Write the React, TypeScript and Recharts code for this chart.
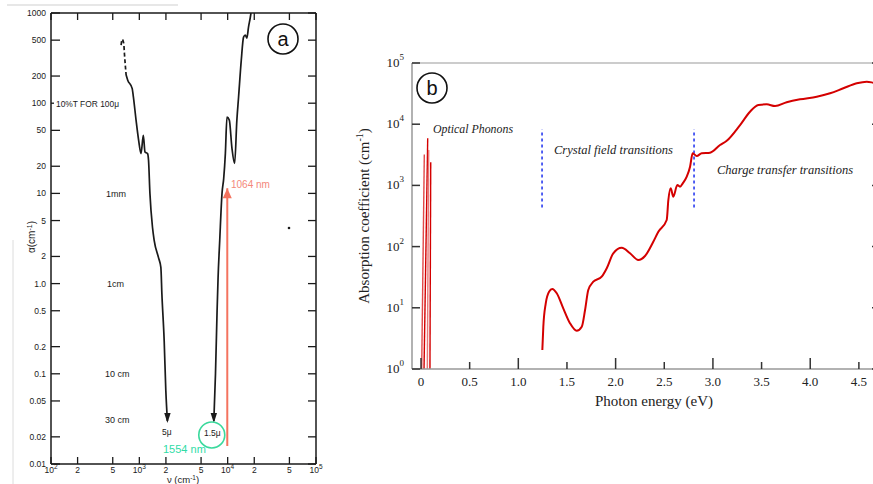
import React from 'react';
import { ComposedChart, Line, XAxis, YAxis, ReferenceLine, ReferenceDot } from 'recharts';

// ---------- Panel (a): absorption vs wavenumber (scanned plot) ----------
const nuLeftDashed = [622, 639, 666, 678, 696, 709];
const alphaLeftDashed = [441, 511, 461, 356, 253, 205];
const nuLeft = [709, 739, 829, 857, 918, 982, 1045, 1109, 1159, 1239, 1271, 1318, 1410, 1474, 1648, 1753, 1800, 1911, 1995, 2080];
const alphaLeft = [205, 180, 146, 117, 65, 38.8, 27.6, 44, 28.8, 27.6, 23.3, 10, 4.19, 3.0, 1.94, 1.51, 0.77, 0.233, 0.065, 0.03];
const nuRight = [6970, 7280, 7590, 7790, 8130, 8630, 9020, 9420, 9820, 10440, 11170, 11990, 12710, 13290, 14260, 15130, 15810, 16490, 17220, 17990, 18370];
const alphaRight = [0.03, 0.1, 0.5, 1.17, 3.0, 10, 14.7, 27.8, 70, 65, 32, 21.5, 65, 117, 300, 541, 570, 527, 699, 880, 1000];
const laserNu = [9900, 9900];
const laserAlpha = [0.0158, 11.4];
const circleNu = 6610;
const circleAlpha = 0.021;

const alphaTicks = [0.01, 0.02, 0.05, 0.1, 0.2, 0.5, 1, 2, 5, 10, 20, 50, 100, 200, 500, 1000];
const alphaTickLabels = ['0.01', '0.02', '0.05', '0.1', '0.2', '0.5', '1.0', '2', '5', '10', '20', '50', '100', '200', '500', '1000'];
const nuTicks = [100, 200, 500, 1000, 2000, 5000, 10000, 20000, 50000, 100000];
const nuTickBase = ['10', '2', '5', '10', '2', '5', '10', '2', '5', '10'];
const nuTickExp = ['2', '', '', '3', '', '', '4', '', '', '5'];

// ---------- Panel (b): absorption vs photon energy ----------
const energy = [1.247, 1.257, 1.282, 1.316, 1.349, 1.395, 1.462, 1.531, 1.6, 1.652, 1.686, 1.719, 1.771, 1.857, 1.909, 1.976, 2.063, 2.148, 2.233, 2.302, 2.387, 2.439, 2.525, 2.542, 2.566, 2.593, 2.634, 2.662, 2.69, 2.731, 2.765, 2.792, 2.833, 2.885, 2.97, 3.073, 3.142, 3.279, 3.381, 3.467, 3.553, 3.638, 3.758, 3.895, 4.067, 4.204, 4.34, 4.478, 4.581, 4.649, 4.72];
const absorption = [2.04, 4.9, 11.8, 18.3, 20.3, 17.3, 9.8, 5.6, 4.2, 4.9, 9.2, 19.5, 26.7, 32.2, 44.2, 77.8, 96, 77.8, 60.4, 70.2, 120, 175, 272, 577, 897, 653, 1016, 952, 1082, 1387, 2023, 3350, 3020, 3350, 3420, 4570, 5370, 9700, 16000, 20600, 21100, 19800, 22800, 25500, 28100, 32000, 38600, 46600, 49500, 47600, 45000];
const phononBase = [0.007, 0.031, 0.065, 0.092];
const phononPeak = [0.034, 0.069, 0.079, 0.1];
const phononAlpha = [3200, 5900, 3800, 2400];
const phononColors = ['#e04848', '#d40000', '#e87878', '#d40000'];
const boundaryEnergy = [1.244, 2.806];
const boundaryLow = 436;
const boundaryHigh = 8300;

const energyTicks = [0, 0.5, 1, 1.5, 2, 2.5, 3, 3.5, 4, 4.5];
const energyTickLabels = ['0', '0.5', '1.0', '1.5', '2.0', '2.5', '3.0', '3.5', '4.0', '4.5'];
const absTicks = [1, 10, 100, 1000, 10000, 100000];
const absTickExp = ['0', '1', '2', '3', '4', '5'];

const dataLeftDashed = nuLeftDashed.map((nu, i) => ({ nu, a: alphaLeftDashed[i] }));
const dataLeft = nuLeft.map((nu, i) => ({ nu, a: alphaLeft[i] }));
const dataRight = nuRight.map((nu, i) => ({ nu, a: alphaRight[i] }));
const dataLaser = laserNu.map((nu, i) => ({ nu, a: laserAlpha[i] }));
const dataB = energy.map((e, i) => ({ e, a: absorption[i] }));

const SANS = '"Liberation Sans", Arial, sans-serif';
const SERIF = '"Liberation Serif", "DejaVu Serif", serif';
const INK = '#1a1a1a';

// ---- tick renderers panel (a)
const ATickLeft = (props: any) => {
  const { x, y, payload, index } = props;
  let i = alphaTicks.indexOf(payload.value);
  if (i < 0) i = index;
  const len = alphaTicks[i] === 100 ? 3 : 9;
  return (
    <g>
      <line x1={x} y1={y} x2={x + len} y2={y} stroke={INK} strokeWidth={1.3} />
      <text x={x - 5} y={y + 3} textAnchor="end" fontSize={8.5} fontFamily={SANS} fill={INK}>
        {alphaTickLabels[i]}
      </text>
    </g>
  );
};
const ATickRight = (props: any) => {
  const { x, y } = props;
  return <line x1={x - 8} y1={y} x2={x} y2={y} stroke={INK} strokeWidth={1.3} />;
};
const ATickBottom = (props: any) => {
  const { x, y, payload, index } = props;
  let i = nuTicks.indexOf(payload.value);
  if (i < 0) i = index;
  const exp = nuTickExp[i];
  return (
    <g>
      <line x1={x} y1={y} x2={x} y2={y - 7} stroke={INK} strokeWidth={1.3} />
      <text x={x} y={y + 9} textAnchor="middle" fontSize={8.5} fontFamily={SANS} fill={INK}>
        <tspan>{nuTickBase[i]}</tspan>
        {exp ? <tspan dy={-4} fontSize={6.5}>{exp}</tspan> : null}
      </text>
    </g>
  );
};
const ATickTop = (props: any) => {
  const { x, y } = props;
  return <line x1={x} y1={y} x2={x} y2={y + 7} stroke={INK} strokeWidth={1.3} />;
};

const arrowDown = (last: number) => (props: any) => {
  const { cx, cy, index } = props;
  if (index !== last) return <g key={`d${index}`} />;
  return <path key={`d${index}`} d={`M${cx},${cy + 2} L${cx - 3.2},${cy - 8} L${cx + 3.2},${cy - 8} Z`} fill={INK} />;
};
const arrowUp = (props: any) => {
  const { cx, cy, index } = props;
  if (index !== 1) return <g key={`u${index}`} />;
  return <path key={`u${index}`} d={`M${cx},${cy} L${cx - 4.5},${cy + 10} L${cx + 4.5},${cy + 10} Z`} fill="#f4735f" />;
};

const PanelA = () => (
  <ComposedChart width={330} height={484} margin={{ top: 8, right: 4, bottom: 5, left: 21 }}>
    <XAxis xAxisId="b" dataKey="nu" type="number" scale="log" domain={[100, 100000]} allowDataOverflow ticks={nuTicks}
      tick={<ATickBottom />} tickLine={false} tickSize={0} tickMargin={0} height={15} axisLine={{ stroke: INK, strokeWidth: 1.5 }} interval={0} />
    <XAxis xAxisId="t" orientation="top" dataKey="nu" type="number" scale="log" domain={[100, 100000]} allowDataOverflow ticks={nuTicks}
      tick={<ATickTop />} tickLine={false} tickSize={0} tickMargin={0} height={5} axisLine={{ stroke: INK, strokeWidth: 1.5 }} interval={0} />
    <YAxis yAxisId="l" type="number" scale="log" domain={[0.01, 1000]} allowDataOverflow ticks={alphaTicks}
      tick={<ATickLeft />} tickLine={false} tickSize={0} tickMargin={0} width={30} axisLine={{ stroke: INK, strokeWidth: 1.5 }} interval={0} />
    <YAxis yAxisId="r" orientation="right" type="number" scale="log" domain={[0.01, 1000]} allowDataOverflow ticks={alphaTicks}
      tick={<ATickRight />} tickLine={false} tickSize={0} tickMargin={0} width={10} axisLine={{ stroke: INK, strokeWidth: 1.5 }} interval={0} />
    <Line xAxisId="t" yAxisId="r" data={dataLeft} dataKey="a" stroke="none" dot={false} isAnimationActive={false} />
    <Line xAxisId="b" yAxisId="l" data={dataLeftDashed} dataKey="a" type="monotone" stroke={INK} strokeWidth={1.7}
      strokeDasharray="4 2.5" dot={false} isAnimationActive={false} />
    <Line xAxisId="b" yAxisId="l" data={dataLeft} dataKey="a" type="monotone" stroke={INK} strokeWidth={1.7}
      dot={arrowDown(dataLeft.length - 1)} activeDot={false} isAnimationActive={false} />
    <Line xAxisId="b" yAxisId="l" data={dataRight} dataKey="a" type="monotone" stroke={INK} strokeWidth={1.7}
      dot={arrowDown(0)} activeDot={false} isAnimationActive={false} />
    <Line xAxisId="b" yAxisId="l" data={dataLaser} dataKey="a" type="linear" stroke="#f4735f" strokeWidth={2}
      dot={arrowUp} activeDot={false} isAnimationActive={false} />
    <ReferenceDot xAxisId="b" yAxisId="l" x={circleNu} y={circleAlpha} r={13} fill="none" stroke="#3ad99c" strokeWidth={1.6} />
  </ComposedChart>
);

// ---- tick renderers panel (b)
const BTickBottom = (props: any) => {
  const { x, y, payload, index } = props;
  let i = energyTicks.indexOf(payload.value);
  if (i < 0) i = index;
  const major = Number.isInteger(energyTicks[i]);
  return (
    <g>
      <line x1={x} y1={y} x2={x} y2={y - (major ? 11 : 7)} stroke="#333" strokeWidth={1.5} />
      <text x={x} y={y + 17} textAnchor="middle" fontSize={13} fontFamily={SERIF} fill="#222">
        {energyTickLabels[i]}
      </text>
    </g>
  );
};
const BTickLeft = (props: any) => {
  const { x, y, payload, index } = props;
  let i = absTicks.indexOf(payload.value);
  if (i < 0) i = index;
  return (
    <g>
      <line x1={x} y1={y} x2={x + 8} y2={y} stroke="#333" strokeWidth={1.5} />
      <text x={x - 8} y={y + 4} textAnchor="end" fontSize={13} fontFamily={SERIF} fill="#222">
        <tspan>10</tspan>
        <tspan dy={-7} fontSize={9}>{absTickExp[i]}</tspan>
      </text>
    </g>
  );
};
const BTickRight = (props: any) => {
  const { x, y } = props;
  return <line x1={x - 8} y1={y} x2={x} y2={y} stroke="#333" strokeWidth={1.5} />;
};

const PanelB = () => (
  <ComposedChart width={545} height={484} margin={{ top: 61, right: 3, bottom: 75, left: 22 }}>
    <XAxis xAxisId="b" dataKey="e" type="number" domain={[-0.0925, 4.717]} allowDataOverflow ticks={energyTicks}
      tick={<BTickBottom />} tickLine={false} tickSize={0} tickMargin={0} height={40} axisLine={{ stroke: '#999', strokeWidth: 1.5 }} interval={0} />
    <XAxis xAxisId="t" orientation="top" dataKey="e" type="number" domain={[-0.0925, 4.717]} allowDataOverflow
      tick={false} tickLine={false} height={2} axisLine={{ stroke: '#bbb', strokeWidth: 1.5 }} />
    <YAxis yAxisId="l" type="number" scale="log" domain={[1, 100000]} allowDataOverflow ticks={absTicks}
      tick={<BTickLeft />} tickLine={false} tickSize={0} tickMargin={0} width={50} axisLine={{ stroke: '#999', strokeWidth: 1.5 }} interval={0} />
    <YAxis yAxisId="r" orientation="right" type="number" scale="log" domain={[1, 100000]} allowDataOverflow ticks={absTicks}
      tick={<BTickRight />} tickLine={false} tickSize={0} tickMargin={0} width={2} axisLine={false} interval={0} />
    <Line xAxisId="t" yAxisId="r" data={dataB} dataKey="a" stroke="none" dot={false} isAnimationActive={false} />
    {phononAlpha.map((h, i) => (
      <ReferenceLine key={`p${i}`} xAxisId="b" yAxisId="l"
        segment={[{ x: phononBase[i], y: 1 }, { x: phononPeak[i], y: h }]}
        stroke={phononColors[i]} strokeWidth={1.4} />
    ))}
    {boundaryEnergy.map((e, i) => (
      <ReferenceLine key={`bd${i}`} xAxisId="b" yAxisId="l"
        segment={[{ x: e, y: boundaryLow }, { x: e, y: boundaryHigh }]}
        stroke="#2a3cf0" strokeWidth={1.6} strokeDasharray="3 3" />
    ))}
    <Line xAxisId="b" yAxisId="l" data={dataB} dataKey="a" type="monotone" stroke="#d40000" strokeWidth={2}
      dot={false} activeDot={false} isAnimationActive={false} />
  </ComposedChart>
);

const App = () => (
  <div style={{ position: 'absolute', left: 0, top: 0, width: 873, height: 484, overflow: 'hidden', background: '#fff' }}>
    <div style={{ position: 'absolute', left: 0, top: 0 }}>
      <PanelA />
    </div>
    <div style={{ position: 'absolute', left: 340, top: 0 }}>
      <PanelB />
    </div>
    <svg width={873} height={484} style={{ position: 'absolute', left: 0, top: 0, pointerEvents: 'none' }}>
      {/* scan border */}
      <line x1={7} y1={5} x2={178} y2={5} stroke="#cfcfcf" strokeWidth={1} />
      <line x1={13} y1={240} x2={13} y2={484} stroke="#dcdcdc" strokeWidth={1} />
      {/* panel a annotations */}
      <text x={56} y={107} fontSize={8.5} fontFamily={SANS} fill={INK} textLength={63} lengthAdjust="spacingAndGlyphs">
        10%T FOR 100μ
      </text>
      <text x={106} y={197} fontSize={9} fontFamily={SANS} fill={INK}>1mm</text>
      <text x={107} y={287} fontSize={9} fontFamily={SANS} fill={INK}>1cm</text>
      <text x={105} y={377} fontSize={9} fontFamily={SANS} fill={INK}>10 cm</text>
      <text x={105} y={423} fontSize={9} fontFamily={SANS} fill={INK}>30 cm</text>
      <text x={162} y={435} fontSize={8.5} fontFamily={SANS} fill={INK}>5μ</text>
      <text x={204} y={436} fontSize={8.5} fontFamily={SANS} fill={INK}>1.5μ</text>
      <text x={231} y={188} fontSize={10} fontFamily={SANS} fill="#f4877a">1064 nm</text>
      <text x={163} y={453} fontSize={11} fontFamily={SANS} fill="#2fdca6">1554 nm</text>
      <text transform="translate(35,237) rotate(-90)" textAnchor="middle" fontSize={10} fontFamily={SANS} fill={INK}>
        α(cm<tspan dy={-3} fontSize={7}>-1</tspan><tspan dy={3}>)</tspan>
      </text>
      <text x={183} y={483} textAnchor="middle" fontSize={9.5} fontFamily={SANS} fill={INK}>
        ν (cm<tspan dy={-3} fontSize={6.5}>-1</tspan><tspan dy={3}>)</tspan>
      </text>
      <circle cx={289} cy={228} r={1.3} fill={INK} />
      <circle cx={283} cy={39} r={15} fill="#fff" stroke="#111" strokeWidth={1.6} />
      <text x={283} y={46} textAnchor="middle" fontSize={20} fontFamily={SANS} fill="#111">a</text>
      {/* panel b annotations */}
      <circle cx={432} cy={88} r={15} fill="#fff" stroke="#111" strokeWidth={1.6} />
      <text x={432} y={95} textAnchor="middle" fontSize={20} fontFamily={SANS} fill="#111">b</text>
      <text x={433} y={133} fontSize={12} fontStyle="italic" fontFamily={SERIF} fill="#222" textLength={80} lengthAdjust="spacingAndGlyphs">
        Optical Phonons
      </text>
      <text x={554} y={154} fontSize={12} fontStyle="italic" fontFamily={SERIF} fill="#222" textLength={119} lengthAdjust="spacingAndGlyphs">
        Crystal field transitions
      </text>
      <text x={717} y={174} fontSize={12} fontStyle="italic" fontFamily={SERIF} fill="#222" textLength={136} lengthAdjust="spacingAndGlyphs">
        Charge transfer transitions
      </text>
      <text x={654} y={406} textAnchor="middle" fontSize={15} fontFamily={SERIF} fill="#222">Photon energy (eV)</text>
      <text transform="translate(369,216) rotate(-90)" textAnchor="middle" fontSize={15} fontFamily={SERIF} fill="#222">
        Absorption coefficient (cm<tspan dy={-6} fontSize={10}>-1</tspan><tspan dy={6}>)</tspan>
      </text>
    </svg>
  </div>
);

export default App;
